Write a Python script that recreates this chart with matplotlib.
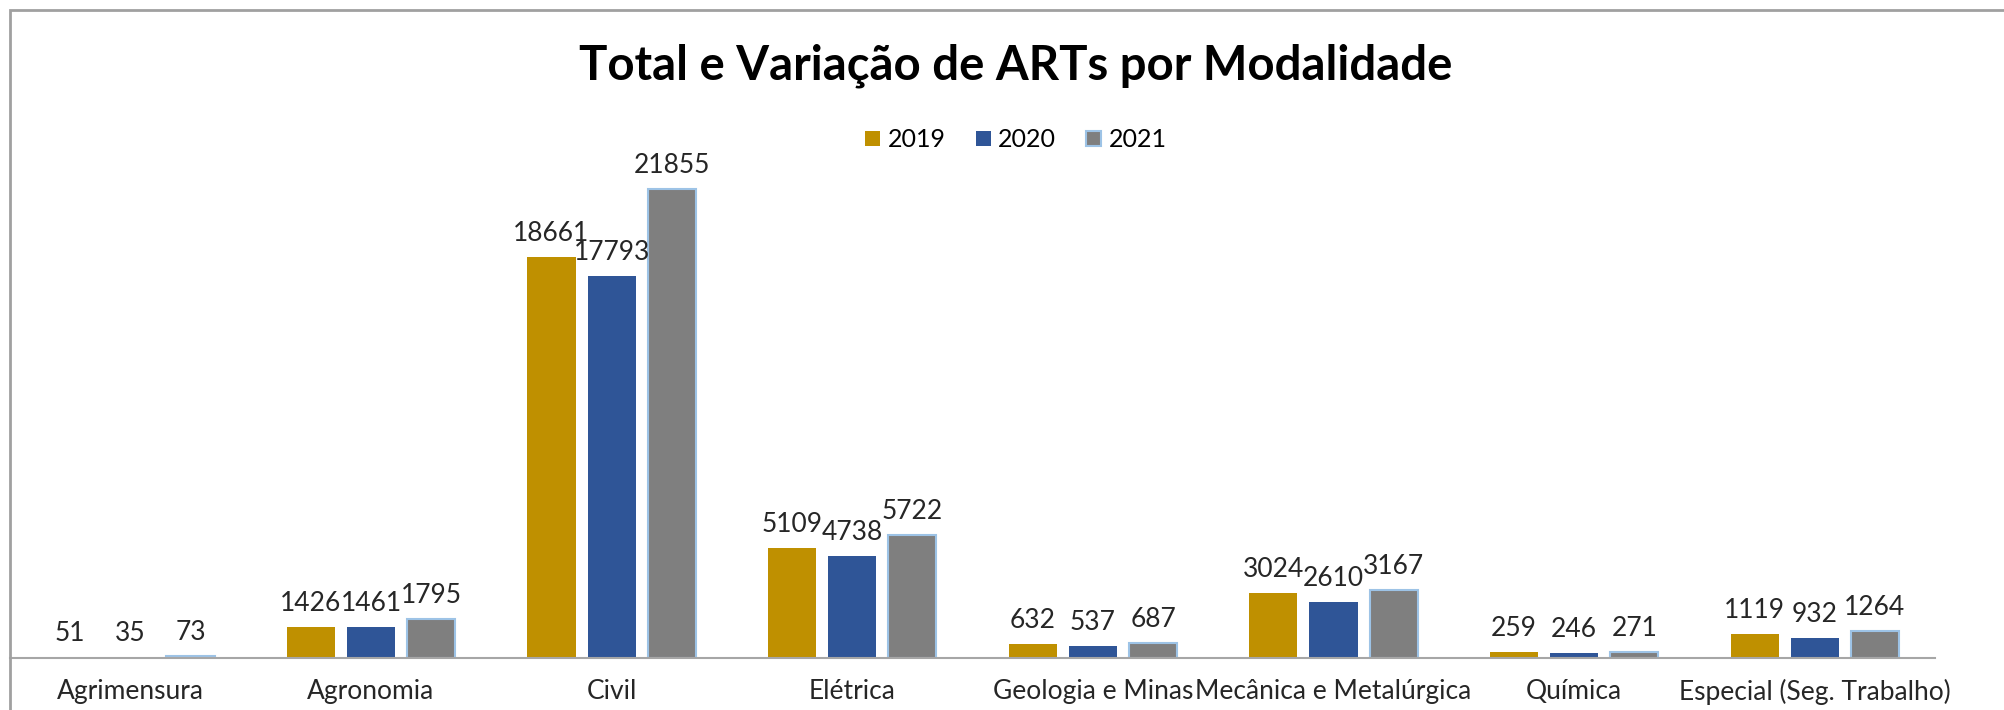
import matplotlib.pyplot as plt
from matplotlib.patches import Rectangle
import numpy as np

categories = ['Agrimensura', 'Agronomia', 'Civil', 'Elétrica', 'Geologia e Minas',
              'Mecânica e Metalúrgica', 'Química', 'Especial (Seg. Trabalho)']
years = ['2019', '2020', '2021']
v2019 = [51, 1426, 18661, 5109, 632, 3024, 259, 1119]
v2020 = [35, 1461, 17793, 4738, 537, 2610, 246, 932]
v2021 = [73, 1795, 21855, 5722, 687, 3167, 271, 1264]

colors = ['#BF9000', '#2F5597', '#7F7F7F']
series = [v2019, v2020, v2021]

plt.rcParams['font.family'] = ['Lato', 'DejaVu Sans']

fig = plt.figure(figsize=(20.04, 7.10), dpi=100)
ax = fig.add_axes([0.005, 0.0732, 0.9606, 0.7564])

x = np.arange(len(categories))
offsets = [-0.25, 0, 0.25]
for i, (vals, col) in enumerate(zip(series, colors)):
    edge = '#9DC3E6' if i == 2 else col
    bars = ax.bar(x + offsets[i], vals, width=0.2, color=col, edgecolor=edge,
                  linewidth=1.5 if i == 2 else 0, label=years[i])
    for b, v in zip(bars, vals):
        ax.annotate(str(v), (b.get_x() + b.get_width() / 2, v),
                    xytext=(0, 11), textcoords='offset pixels',
                    ha='center', va='bottom', fontsize=19, color='#262626')

ax.set_xlim(-0.5, len(categories) - 0.5)
ax.set_ylim(0, 25000)
ax.set_xticks(x)
ax.set_xticklabels(categories, fontsize=19, color='#262626')
ax.tick_params(axis='x', length=0, pad=15)
ax.set_yticks([])
for s in ['left', 'right', 'top']:
    ax.spines[s].set_visible(False)
ax.spines['bottom'].set_color('#A6A6A6')
ax.spines['bottom'].set_linewidth(1.5)

fig.text(0.507, 0.907, 'Total e Variação de ARTs por Modalidade',
         ha='center', va='center', fontsize=34, fontweight='bold', color='black')

fig.legend(loc='center', bbox_to_anchor=(0.507, 0.803), ncol=3, frameon=False,
           fontsize=18, handlelength=0.6, handleheight=0.6, handletextpad=0.3,
           columnspacing=1.2)

fig.patches.append(Rectangle((0.005, -0.2), 1.2, 1.186, transform=fig.transFigure,
                             fill=False, edgecolor='#A0A0A0', linewidth=2))

fig.savefig('out.png', dpi=100)
